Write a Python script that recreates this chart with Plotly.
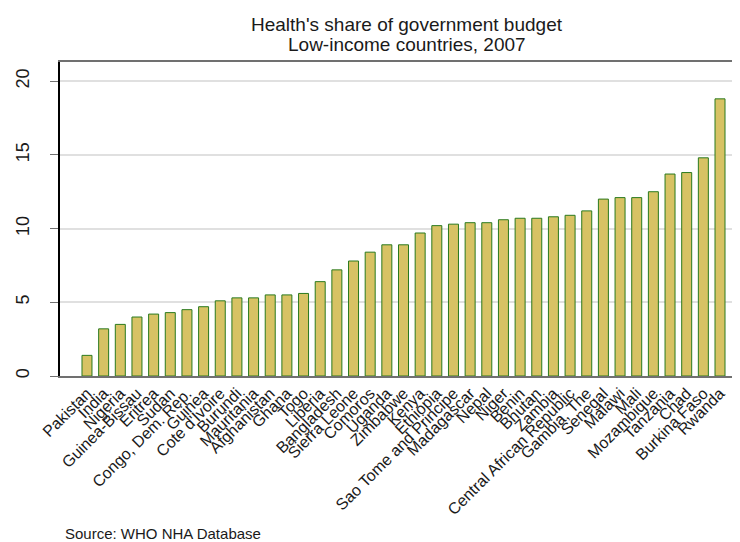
import plotly.graph_objects as go

countries = ["Pakistan", "India", "Nigeria", "Guinea-Bissau", "Eritrea", "Sudan",
             "Congo, Dem. Rep.", "Guinea", "Cote d'Ivoire", "Burundi", "Mauritania",
             "Afghanistan", "Ghana", "Togo", "Liberia", "Bangladesh", "Sierra Leone",
             "Comoros", "Uganda", "Zimbabwe", "Kenya", "Ethiopia", "Sao Tome and Principe",
             "Madagascar", "Nepal", "Niger", "Benin", "Bhutan", "Zambia",
             "Central African Republic", "Gambia, The", "Senegal", "Malawi", "Mali",
             "Mozambique", "Tanzania", "Chad", "Burkina Faso", "Rwanda"]
health_share = [1.4, 3.2, 3.5, 4.0, 4.2, 4.3, 4.5, 4.7, 5.1, 5.3, 5.3, 5.5, 5.5, 5.6,
                6.4, 7.2, 7.8, 8.4, 8.9, 8.9, 9.7, 10.2, 10.3, 10.4, 10.4, 10.6, 10.7,
                10.7, 10.8, 10.9, 11.2, 12.0, 12.1, 12.1, 12.5, 13.7, 13.8, 14.8, 18.8]
y_ticks = [0, 5, 10, 15, 20]
title_lines = ["Health's share of government budget", "Low-income countries, 2007"]
source_note = "Source: WHO NHA Database"

fig = go.Figure(go.Bar(
    x=countries, y=health_share,
    marker=dict(color="#d7c264", line=dict(color="#2a7a1e", width=1)),
))

font_family = "Liberation Sans, Arial, sans-serif"
title_font = dict(size=19, family=font_family, color="#1a1a1a")
fig.update_layout(
    width=732, height=534,
    margin=dict(l=52, r=0, t=54, b=166),
    paper_bgcolor="white", plot_bgcolor="white",
    bargap=0.4,
    showlegend=False,
    font=dict(family=font_family, color="#1a1a1a"),
    xaxis=dict(
        type="category", range=[-1.62, 39.2],
        tickmode="array", tickvals=countries, ticktext=countries,
        tickangle=-45, tickfont=dict(size=16),
        showline=True, mirror=True, linecolor="#707070", linewidth=1.5,
        showgrid=False, ticks="", automargin=False,
    ),
    yaxis=dict(
        range=[0, 21.3], tickvals=y_ticks, tickangle=-90,
        tickfont=dict(size=18), ticklabelstandoff=14,
        showline=True, linecolor="black", linewidth=1.5,
        showgrid=True, gridcolor="#e0e0e0", gridwidth=1.5,
        ticks="outside", ticklen=8, tickcolor="#707070",
        zeroline=False, automargin=False,
    ),
    annotations=[
        dict(text=title_lines[0], xref="paper", yref="paper",
             x=0.51, y=1.118, xanchor="center", yanchor="middle",
             showarrow=False, font=title_font),
        dict(text=title_lines[1], xref="paper", yref="paper",
             x=0.51, y=1.057, xanchor="center", yanchor="middle",
             showarrow=False, font=title_font),
        dict(text=source_note, xref="paper", yref="paper",
             x=0.004, y=-0.5, xanchor="left", yanchor="middle", showarrow=False,
             font=dict(size=15, family=font_family, color="#1a1a1a")),
    ],
)

fig.write_html("out.html")
